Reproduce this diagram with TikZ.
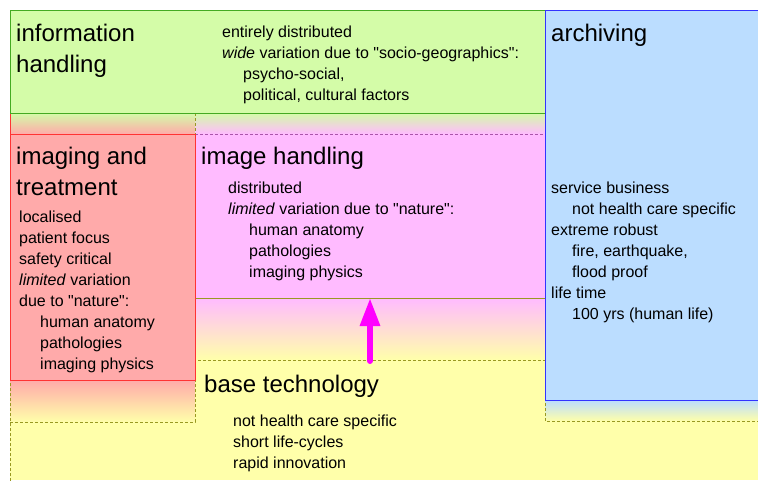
\documentclass[tikz,border=0pt]{standalone}
\usepackage{fontspec}
\setmainfont{Liberation Sans}
\usetikzlibrary{arrows.meta}

\definecolor{infofill}{HTML}{D4FCA8}
\definecolor{infoline}{HTML}{44AA22}
\definecolor{treatfill}{HTML}{FFAAAA}
\definecolor{treatline}{HTML}{FF3333}
\definecolor{imgfill}{HTML}{FFBBFF}
\definecolor{imgline}{HTML}{AA55AA}
\definecolor{archfill}{HTML}{BBDDFF}
\definecolor{archline}{HTML}{3333FF}
\definecolor{basefill}{HTML}{FFFFAA}
\definecolor{baseedge}{HTML}{999922}
\definecolor{pilecolor}{HTML}{FF00FF}

\newcommand{\qt}[1]{\textquotedbl#1\textquotedbl}

\begin{document}
\begin{tikzpicture}[x=1pt,y=-1pt,
	title/.style={anchor=north west, inner sep=0pt, align=left, font=\fontsize{24}{31}\selectfont},
	body/.style={anchor=north west, inner sep=0pt, align=left, font=\fontsize{16}{21}\selectfont},
	limit/.style={densely dashed, baseedge, line width=0.8pt},
	pile/.style={line width=6pt, pilecolor, line cap=round, -{Triangle[width=19pt,length=28pt]}}]

	\useasboundingbox (0,0) rectangle (758,480);

	% Base layer
	\fill[basefill] (10,360) rectangle (758,480);

	% Fades
	\shade[top color=infofill, bottom color=treatfill] (10,113) rectangle (195,134);
	\shade[top color=infofill, bottom color=imgfill] (195,113) rectangle (545,134);
	\shade[top color=imgfill, bottom color=basefill] (195,298) rectangle (545,360);
	\shade[top color=treatfill, bottom color=basefill] (10,380) rectangle (195,422);
	\shade[top color=archfill, bottom color=basefill] (545,400) rectangle (758,421);

	% Limits of the base layer
	\draw[limit] (10,481) -- (10,380);
	\draw[limit] (10,422) -- (195,422) -- (195,360) -- (545,360) -- (545,421) -- (758,421);
	\draw[limit] (195,113) -- (195,134);
	\draw[treatline, line width=0.8pt] (10,113) -- (10,134);

	% Boxes
	\filldraw[fill=infofill, draw=infoline, line width=0.8pt] (10,10) rectangle (545,113);
	\fill[imgfill] (195,134) rectangle (545,298);
	\draw[imgline, densely dashed, line width=0.8pt] (195,134) -- (545,134);
	\draw[baseedge, line width=0.8pt] (195,298) -- (545,298);
	\filldraw[fill=treatfill, draw=treatline, line width=0.8pt] (10,134) rectangle (195,380);
	\filldraw[fill=archfill, draw=archline, line width=0.8pt] (545,10) rectangle (760,400);

	% Texts
	\node[title] (infotitle) at (16,23.5) {information\\handling};
	\node[body] (infotext) at (222,25.3) {entirely distributed\\
		\textit{wide} variation due to \qt{socio-geographics}:\\
		\hspace*{21pt}psycho-social,\\
		\hspace*{21pt}political, cultural factors};

	\node[title] (treattitle) at (16,146.5) {imaging and\\treatment};
	\node[body] (treattext) at (19,210.3) {localised\\
		patient focus\\
		safety critical\\
		\textit{limited} variation\\
		due to \qt{nature}:\\
		\hspace*{21pt}human anatomy\\
		\hspace*{21pt}pathologies\\
		\hspace*{21pt}imaging physics};

	\node[title] (imgtitle) at (201,146.5) {image handling};
	\node[body] (imgtext) at (228,181.3) {distributed\\
		\textit{limited} variation due to \qt{nature}:\\
		\hspace*{21pt}human anatomy\\
		\hspace*{21pt}pathologies\\
		\hspace*{21pt}imaging physics};

	\node[title] (archtitle) at (551,23.5) {archiving};
	\node[body] (archtext) at (551,181.3) {service business\\
		\hspace*{21pt}not health care specific\\
		extreme robust\\
		\hspace*{21pt}fire, earthquake,\\
		\hspace*{21pt}flood proof\\
		life time\\
		\hspace*{21pt}100 yrs (human life)};

	\node[title] (basetitle) at (204,374.5) {base technology};
	\node[body] (basetext) at (233,414.3) {not health care specific\\
		short life-cycles\\
		rapid innovation};

	% Arrow
	\coordinate (imgfoot) at (370,298);
	\coordinate (basehead) at (370,361);
	\draw[pile] (basehead) -- (imgfoot);

\end{tikzpicture}
\end{document}
